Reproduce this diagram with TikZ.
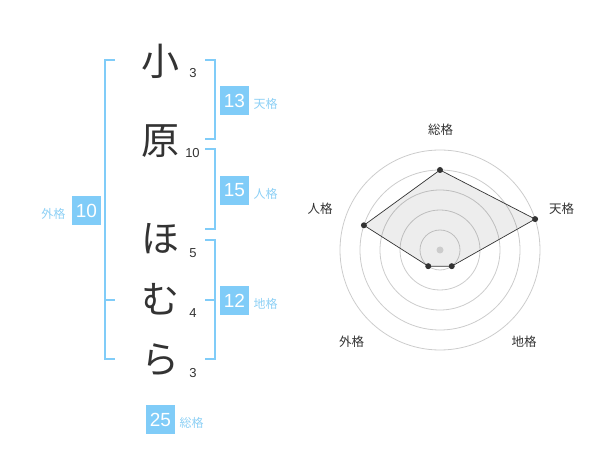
\documentclass[tikz,border=0pt]{standalone}
\usepackage{fontspec}
\setmainfont{Liberation Sans}
\newfontfamily\jpfont{Noto Sans CJK JP}
\usetikzlibrary{calc}
\definecolor{sky}{HTML}{80CCF8}
\definecolor{skytxt}{HTML}{8DD0F5}
\definecolor{ink}{HTML}{333333}
\definecolor{ring}{HTML}{CCCCCC}
\begin{document}
\begin{tikzpicture}[x=1pt,y=-1pt,
  kchar/.style={font=\jpfont\fontsize{38}{38}\selectfont, text=ink, inner sep=0},
  strokes/.style={font=\fontsize{13}{13}\selectfont, text=ink, inner sep=0},
  numbox/.style={fill=sky, text=white, minimum size=29pt, inner sep=0, font=\fontsize{19}{19}\selectfont},
  kaku/.style={font=\jpfont\fontsize{12}{12}\selectfont, text=skytxt, inner sep=0},
  brk/.style={draw=sky, line width=2pt},
  ringst/.style={draw=ring, line width=0.8pt},
  axlbl/.style={font=\jpfont\fontsize{12.5}{12.5}\selectfont, text=ink, inner sep=0},
  dot/.style={circle, fill=ink, inner sep=0, minimum size=6pt}]
\useasboundingbox (0,0) rectangle (600,470);
% name characters
\node[kchar] (k1) at (160,61.5) {小};
\node[kchar] (k2) at (160,141.5) {原};
\node[kchar] (k3) at (160,239) {ほ};
\node[kchar] (k4) at (160,299) {む};
\node[kchar] (k5) at (160,360) {ら};
% stroke counts
\node[strokes] (s1) at (193,72.7) {3};
\node[strokes] (s2) at (192.5,152.7) {10};
\node[strokes] (s3) at (193,252.7) {5};
\node[strokes] (s4) at (193,313.3) {4};
\node[strokes] (s5) at (193,372.7) {3};
% brackets
\draw[brk] (115,60) -- (105,60) -- (105,359.5) -- (115,359.5);
\draw[brk] (105,300) -- (115,300);
\draw[brk] (205,60) -- (215,60) -- (215,139.5) -- (205,139.5);
\draw[brk] (205,149.5) -- (215,149.5) -- (215,229.5) -- (205,229.5);
\draw[brk] (205,240) -- (215,240) -- (215,359.5) -- (205,359.5);
\draw[brk] (205,300) -- (215,300);
% boxes
\node[numbox] (b13) at (234.5,100.5) {13};
\node[kaku] (l13) at (265.7,104) {天格};
\node[numbox] (b15) at (234.5,190.5) {15};
\node[kaku] (l15) at (265.7,194) {人格};
\node[numbox] (b12) at (234.5,300.5) {12};
\node[kaku] (l12) at (265.7,304) {地格};
\node[numbox] (b10) at (86.5,210.5) {10};
\node[kaku] (l10) at (53.3,214) {外格};
\node[numbox] (b25) at (160.5,419.5) {25};
\node[kaku] (l25) at (191.7,423.3) {総格};
% radar
\coordinate (c) at (440,250);
\foreach \r in {20,40,60,80,100} \draw[ringst] (c) circle[radius=\r pt];
\coordinate (pS) at ($(c)+(90:80pt)$);
\coordinate (pT) at ($(c)+(18:100pt)$);
\coordinate (pC) at ($(c)+(-54:20pt)$);
\coordinate (pG) at ($(c)+(-126:20pt)$);
\coordinate (pJ) at ($(c)+(162:80pt)$);
\fill[black, fill opacity=0.07] (pS) -- (pT) -- (pC) -- (pG) -- (pJ) -- cycle;
\draw[ink, line width=0.7pt] (pS) -- (pT) -- (pC) -- (pG) -- (pJ) -- cycle;
\node[circle, fill=ring, inner sep=0, minimum size=7pt] (cd) at (c) {};
\node[dot] (dS) at (pS) {};
\node[dot] (dT) at (pT) {};
\node[dot] (dC) at (pC) {};
\node[dot] (dG) at (pG) {};
\node[dot] (dJ) at (pJ) {};
\node[axlbl] (aS) at (440.7,130) {総格};
\node[axlbl] (aT) at (561.7,208.3) {天格};
\node[axlbl] (aJ) at (320,208.3) {人格};
\node[axlbl] (aG) at (351.7,341.7) {外格};
\node[axlbl] (aC) at (524,341.7) {地格};
\end{tikzpicture}
\end{document}
